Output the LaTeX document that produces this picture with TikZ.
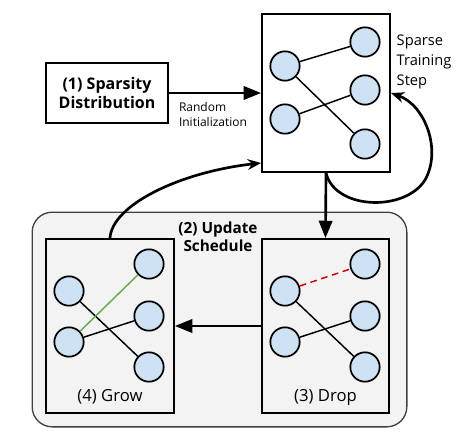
\documentclass[tikz,border=0pt]{standalone}
\usepackage{fontspec}
\setmainfont{Open Sans}
\usepackage{tikz}
\usetikzlibrary{positioning,arrows.meta}
\definecolor{unitblue}{RGB}{207,226,243}
\definecolor{schedgray}{RGB}{243,243,243}
\definecolor{growgreen}{RGB}{106,168,79}
\definecolor{dropred}{RGB}{204,0,0}
\tikzstyle{unit} = [circle, draw, line width=1.3pt, fill=unitblue, minimum size=22pt, inner sep=0pt]
\tikzstyle{panel} = [draw, line width=1.4pt, inner sep=0pt]
\tikzstyle{link} = [line width=1.1pt]
\tikzstyle{flow} = [line width=2pt, -{Triangle[length=13pt,width=10pt]}]
\tikzstyle{loop} = [line width=2pt, -{Stealth[length=10pt,width=8pt]}]

\begin{document}
\begin{tikzpicture}[x=0.75pt,y=-0.75pt]
			\useasboundingbox (0,0) rectangle (469,437);
			\node[draw=black!75, line width=1pt, fill=schedgray, rounded corners=15pt, minimum width=281pt, minimum height=161pt] (sched) at (219.5,319.5) {};
			\node[font=\bfseries\fontsize{11.5}{13.5}\selectfont, align=center] (schedtxt) at (218,237) {(2) Update\\Schedule};
			\node[panel, fill=white, minimum width=96pt, minimum height=118.5pt] (train) at (326,93) {};
			\node[panel, fill=white, minimum width=91.5pt, minimum height=45pt, font=\bfseries\fontsize{12}{14}\selectfont, align=center] (spars) at (107,93) {(1) Sparsity\\Distribution};
			\node[panel, fill=schedgray, minimum width=96pt, minimum height=130.5pt] (grow) at (110,326) {};
			\node[panel, fill=schedgray, minimum width=95pt, minimum height=130.5pt] (drop) at (325.5,326) {};
			\node[font=\fontsize{9}{11}\selectfont, align=left] (randinit) at (213,114.5) {Random\\Initialization};
			\node[font=\fontsize{11}{15}\selectfont, align=left, anchor=west] (steptxt) at (392,62) {Sparse\\Training\\Step};
			\node[font=\fontsize{12.5}{13}\selectfont] (growtxt) at (110,397) {(4) Grow};
			\node[font=\fontsize{12.5}{13}\selectfont] (droptxt) at (325.5,397) {(3) Drop};
			% sparse training step
			\node[unit] (tl1) at (285,66) {};
			\node[unit] (tl2) at (285,119) {};
			\node[unit] (tr1) at (365,42) {};
			\node[unit] (tr2) at (365,90) {};
			\node[unit] (tr3) at (365,144) {};
			\draw[link] (tl1) edge (tr1) (tl1) edge (tr3) (tl2) edge (tr2);
			% grow
			\node[unit] (gl1) at (69,291) {};
			\node[unit] (gl2) at (69,342) {};
			\node[unit] (gr1) at (149,264) {};
			\node[unit] (gr2) at (149,316) {};
			\node[unit] (gr3) at (149,367) {};
			\draw[link] (gl1) edge (gr3) (gl2) edge (gr2);
			\draw[link, growgreen] (gl2) -- (gr1);
			% drop
			\node[unit] (dl1) at (285,291) {};
			\node[unit] (dl2) at (285,342) {};
			\node[unit] (dr1) at (365,264) {};
			\node[unit] (dr2) at (365,316) {};
			\node[unit] (dr3) at (365,367) {};
			\draw[link] (dl1) edge (dr3) (dl2) edge (dr2);
			\draw[link, dropred, dash pattern=on 5pt off 3.5pt] (dl1) -- (dr1);
			% arrows
			\draw[flow] (spars) -- (train);
			\draw[flow] (train.south) -- (drop.north);
			\draw[flow] (drop.west) -- (grow.east);
			\draw[loop] (train.south) .. controls (335,210) and (405,212) .. (425,180) .. controls (442,150) and (425,105) .. (train.east);
			\draw[loop] (grow.north) .. controls (112,205) and (180,172) .. (train.west |- 0,163);
		\end{tikzpicture}
\end{document}
